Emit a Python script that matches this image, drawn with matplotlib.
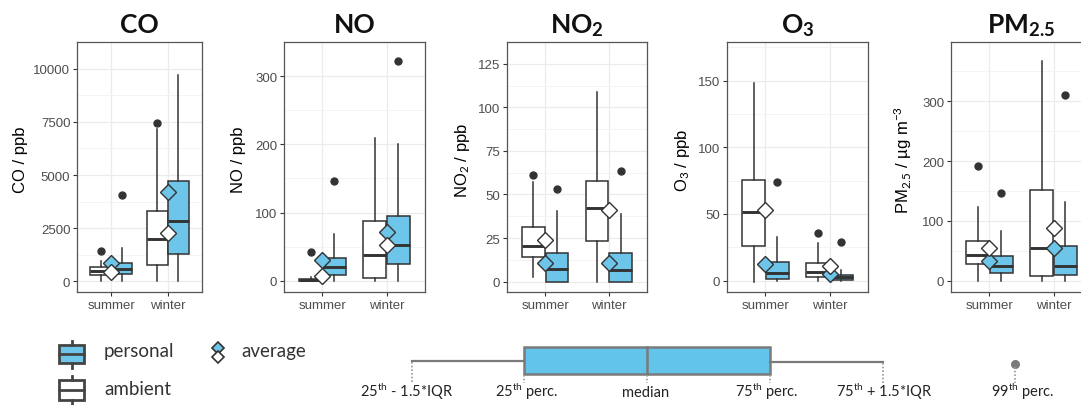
import matplotlib.pyplot as plt
from matplotlib.patches import Rectangle
import numpy as np

plt.rcParams['font.family'] = ['Liberation Sans', 'DejaVu Sans']
plt.rcParams['mathtext.fontset'] = 'custom'
plt.rcParams['mathtext.rm'] = 'Lato'
plt.rcParams['mathtext.it'] = 'Lato:italic'
plt.rcParams['mathtext.bf'] = 'Lato:bold'

#=============================== data ===============================
seasons = ['summer', 'winter']
titles = ['CO', 'NO', r'NO$_\mathbf{2}$', r'O$_\mathbf{3}$', r'PM$_\mathbf{2.5}$']
ylabels = ['CO / ppb', 'NO / ppb', r'NO$_{\rm 2}$ / ppb', r'O$_{\rm 3}$ / ppb',
           r'PM$_{\rm 2.5}$ / µg m$^{-3}$']
yticks = [[0, 2500, 5000, 7500, 10000], [0, 100, 200, 300], [0, 25, 50, 75, 100, 125],
          [0, 50, 100, 150], [0, 100, 200, 300]]

# boxes: [low whisker, 25th, median, 75th, high whisker] for summer, winter
co_amb_box = [[0, 320, 480, 660, 980], [0, 760, 2010, 3330, 7150]]
co_pers_box = [[0, 340, 580, 880, 1580], [0, 1290, 2850, 4700, 9710]]
no_amb_box = [[0, 0, 1, 2.5, 5], [0, 4.8, 37.7, 87, 210]]
no_pers_box = [[0, 8.7, 20.3, 34, 68], [0, 25, 52, 95, 200]]
no2_amb_box = [[2.6, 14.4, 20.7, 31.6, 57], [0, 23.4, 42.5, 58, 109]]
no2_pers_box = [[0, 0, 7.5, 16.2, 40.4], [0, 0, 6.5, 16.2, 39]]
o3_amb_box = [[-1, 26.3, 51.8, 75.5, 148], [0, 3, 6.3, 13, 28]]
o3_pers_box = [[0, 1.3, 5.5, 13.8, 33], [0, 0.5, 2.5, 4.3, 8]]
pm_amb_box = [[0, 27.9, 42.9, 66.4, 124], [0, 8.4, 54.7, 152, 368]]
pm_pers_box = [[0, 12.3, 25.1, 40.7, 82.5], [0, 9.5, 25.1, 57.4, 131]]

# averages (diamonds)
co_amb_mean, co_pers_mean = [440, 2290], [850, 4190]
no_amb_mean, no_pers_mean = [7.3, 51.8], [30, 71]
no2_amb_mean, no2_pers_mean = [24, 40.9], [10.9, 10.9]
o3_amb_mean, o3_pers_mean = [53, 11.3], [12.5, 5]
pm_amb_mean, pm_pers_mean = [54, 87.6], [32.3, 54]

# 99th percentile points (nan = not shown)
co_amb_p99, co_pers_p99 = [1420, 7450], [4040, np.nan]
no_amb_p99, no_pers_p99 = [42.6, np.nan], [147, 322.7]
no2_amb_p99, no2_pers_p99 = [61.4, np.nan], [53.4, 63.2]
o3_amb_p99, o3_pers_p99 = [np.nan, 35.5], [73.8, 28.8]
pm_amb_p99, pm_pers_p99 = [191.3, np.nan], [146.7, 310.6]

amb_box = [co_amb_box, no_amb_box, no2_amb_box, o3_amb_box, pm_amb_box]
pers_box = [co_pers_box, no_pers_box, no2_pers_box, o3_pers_box, pm_pers_box]
amb_mean = [co_amb_mean, no_amb_mean, no2_amb_mean, o3_amb_mean, pm_amb_mean]
pers_mean = [co_pers_mean, no_pers_mean, no2_pers_mean, o3_pers_mean, pm_pers_mean]
amb_p99 = [co_amb_p99, no_amb_p99, no2_amb_p99, o3_amb_p99, pm_amb_p99]
pers_p99 = [co_pers_p99, no_pers_p99, no2_pers_p99, o3_pers_p99, pm_pers_p99]

#=============================== layout (pixels) ===============================
W, H = 1081, 406
ax_left = [77, 284, 507, 727, 951]
ax_right = [202, 425, 647, 868, 1092]
ax_top, ax_bot = 43, 293
ylab_x = [20, 238, 463, 682, 903]
ylims = [(-495, 10450), (-16.4, 346), (-5.95, 125.7), (-8.5, 179), (-18.9, 399)]

blue = '#6DC6EA'
dark = '#333333'

fig = plt.figure(figsize=(W / 100, H / 100), dpi=100)

# overlay for legend + schematic
ov = fig.add_axes([0, 0, 1, 1])
ov.set_xlim(0, W); ov.set_ylim(H, 0); ov.axis('off')


def stats_of(b):
    return dict(whislo=b[0], q1=b[1], med=b[2], q3=b[3], whishi=b[4], fliers=[])


for i in range(5):
    l, r = ax_left[i], ax_right[i]
    ax = fig.add_axes([l / W, 1 - ax_bot / H, (r - l) / W, (ax_bot - ax_top) / H])

    pos = np.array([1, 2])
    for boxes, off, fc in [(amb_box[i], -0.185, 'white'), (pers_box[i], 0.185, blue)]:
        ax.bxp([stats_of(b) for b in boxes], positions=pos + off, widths=0.36,
               patch_artist=True, showcaps=False, showfliers=False, manage_ticks=False,
               boxprops=dict(facecolor=fc, edgecolor=dark, lw=1.1),
               whiskerprops=dict(color=dark, lw=1.1),
               medianprops=dict(color=dark, lw=2.1))
    ax.plot(pos - 0.185, amb_p99[i], 'o', color=dark, ms=5, zorder=4)
    ax.plot(pos + 0.185, pers_p99[i], 'o', color=dark, ms=5, zorder=4)
    ax.plot(pos, pers_mean[i], 'D', mfc=blue, mec=dark, mew=1.0, ms=8.4, ls='none', zorder=5)
    ax.plot(pos, amb_mean[i], 'D', mfc='white', mec=dark, mew=1.0, ms=8.4, ls='none', zorder=5)

    ax.set_xlim(0.4, 2.6)
    ax.set_ylim(*ylims[i])
    ax.set_yticks(yticks[i])
    mids = [(a + b) / 2 for a, b in zip(yticks[i][:-1], yticks[i][1:])]
    ax.set_yticks(mids + [yticks[i][-1] + (yticks[i][1] - yticks[i][0]) / 2], minor=True)
    ax.set_xticks([1, 2]); ax.set_xticklabels(seasons)
    ax.grid(True, which='major', color='#EBEBEB', lw=0.9)
    ax.grid(True, which='minor', axis='y', color='#F3F3F3', lw=0.6)
    ax.set_axisbelow(True)
    ax.tick_params(which='major', length=2.8, width=0.8, color=dark, labelsize=9.5,
                   labelcolor='#4D4D4D', pad=2)
    ax.tick_params(which='minor', length=0)
    for s in ax.spines.values():
        s.set_color('#555555'); s.set_linewidth(0.9)

    fig.text((l + r) / 2 / W, 1 - 33 / H, titles[i], ha='center', va='baseline',
             family='Lato', weight='bold', fontsize=19, color='#111111')
    fig.text(ylab_x[i] / W, 1 - 160 / H, ylabels[i], rotation=90, ha='center',
             va='center', fontsize=12, color='black')

#=============================== legend ===============================
for y0, h, fc, ymed in [(346, 18, blue, 355), (381, 20, 'white', 391)]:
    ov.add_patch(Rectangle((59, y0), 25, h, facecolor=fc, edgecolor='#444444', lw=2))
    ov.plot([59, 84], [ymed, ymed], color='#444444', lw=2)
    ov.plot([71.5, 71.5], [y0 - 4.5, y0], color='#444444', lw=2)
    ov.plot([71.5, 71.5], [y0 + h, y0 + h + 4.5], color='#444444', lw=2)
ov.text(104, 352, 'personal', family='Lato', fontsize=13.5, va='center', color='#333333')
ov.text(104, 390, 'ambient', family='Lato', fontsize=13.5, va='center', color='#333333')
ov.plot(218, 349, 'D', mfc=blue, mec='#333333', mew=1.2, ms=6.5)
ov.plot(218, 358, 'D', mfc='white', mec='#333333', mew=1.2, ms=6.5)
ov.text(241, 352, 'average', family='Lato', fontsize=13.5, va='center', color='#333333')

#=============================== schematic boxplot ===============================
g = '#7A7A7A'
ov.plot([412, 524], [362, 362], color=g, lw=1.6)
ov.add_patch(Rectangle((524, 348), 246, 27, facecolor='#62C4EA', edgecolor=g, lw=1.8))
ov.plot([647, 647], [348, 375], color=g, lw=1.8)
ov.plot([770, 883], [363, 363], color=g, lw=1.6)
ov.plot(1015, 365, 'o', color=g, ms=5.5)
for x, y1 in [(412, 363), (524, 376), (647, 376), (770, 376), (883, 364), (1015, 368)]:
    ov.plot([x, x], [y1, 384], color='#999999', lw=1.2, ls=(0, (1, 1.2)))
sch_labels = [r'25$^{\rm th}$ - 1.5*IQR', r'25$^{\rm th}$ perc.', 'median',
              r'75$^{\rm th}$ perc.', r'75$^{\rm th}$ + 1.5*IQR', r'99$^{\rm th}$ perc.']
for x, t in zip([407, 527, 646, 767, 884, 1023], sch_labels):
    ov.text(x, 397, t, family='Lato', fontsize=10.5, ha='center', va='baseline', color='#222222')

fig.savefig('out.png', dpi=100)
